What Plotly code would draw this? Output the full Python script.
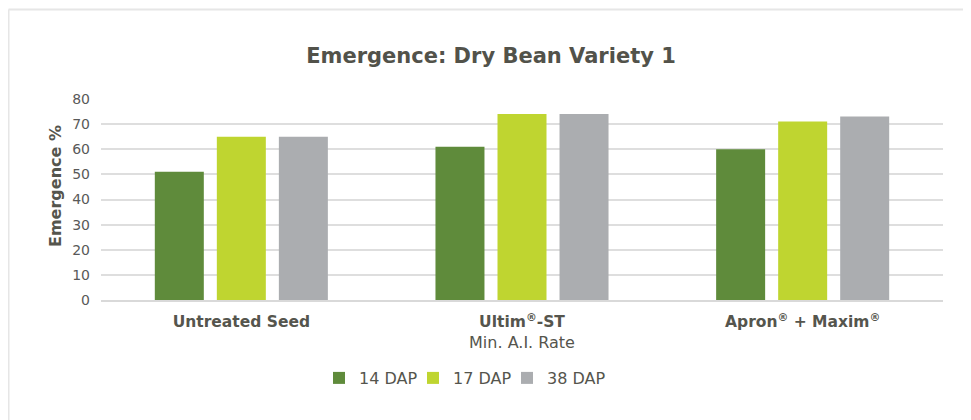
import plotly.graph_objects as go

categories = ["Untreated Seed", "Ultim®-ST Min. A.I. Rate", "Apron® + Maxim®"]
tick_labels = [
    "<b>Untreated Seed</b>",
    "<b>Ultim<sup>®</sup>-ST</b><br><span style='font-size:16px'>Min. A.I. Rate</span>",
    "<b>Apron<sup>®</sup> + Maxim<sup>®</sup></b>",
]
series_names = ["14 DAP", "17 DAP", "38 DAP"]
dap14 = [51, 61, 60]
dap17 = [65, 74, 71]
dap38 = [65, 74, 73]
colors = ["#5f8b3b", "#bfd530", "#abadb0"]

FONT = "DejaVu Sans"
TXT = "#55554d"

# page has an 8px body margin; figure is placed at (8, 8)
OX, OY = 8, 8
PW, PH = 971, 420
W, H = PW - OX, PH - OY
# plot area in page pixels
PL, PR, PT, PB = 101, 943, 99, 300
L, R, T, B = PL - OX, W - (PR - OX), PT - OY, H - (PB - OY)
pw, ph = PR - PL, PB - PT

def px_x(x):
    return (x - PL) / pw

def px_y(y):
    return (PB - y) / ph

legend_ids = ["legend", "legend2", "legend3"]
legend_left_px = [319, 413, 507]

fig = go.Figure()
for name, vals, col, lid in zip(series_names, [dap14, dap17, dap38], colors, legend_ids):
    fig.add_trace(go.Bar(x=categories, y=vals, name=name, legend=lid,
                         marker=dict(color=col, line=dict(width=0))))

legend_common = dict(orientation="h", xanchor="left", y=px_y(378), yanchor="middle",
                     font=dict(size=16, color=TXT), itemwidth=30, bgcolor="rgba(0,0,0,0)")

fig.update_layout(
    width=W, height=H,
    margin=dict(l=L, r=R, t=T, b=B, pad=0),
    paper_bgcolor="white", plot_bgcolor="white",
    barmode="group", bargap=0.337, bargroupgap=0.21,
    font=dict(family=FONT, color=TXT),
    title=dict(text="<b>Emergence: Dry Bean Variety 1</b>", x=px_x(491), xref="paper",
               xanchor="center", y=1 - (56 - OY) / H, yanchor="middle",
               font=dict(size=21, color="#52524a", family=FONT)),
    xaxis=dict(tickmode="array", tickvals=categories, ticktext=tick_labels,
               tickfont=dict(size=15.5, color=TXT), showgrid=False,
               showline=True, linecolor="#d9d9d9", linewidth=1.5, ticks="",
               ticklabelstandoff=7),
    yaxis=dict(range=[0, 80], dtick=10, showgrid=True, gridcolor="#dedede", gridwidth=1.5,
               zeroline=False, showline=False, ticks="", ticklabelstandoff=10,
               tickfont=dict(size=14, color="#595959")),
    legend=dict(x=px_x(legend_left_px[0]), **legend_common),
    legend2=dict(x=px_x(legend_left_px[1]), **legend_common),
    legend3=dict(x=px_x(legend_left_px[2]), **legend_common),
    showlegend=True,
)

fig.add_annotation(text="<b>Emergence %</b>", textangle=-90, xref="paper", yref="paper",
                   x=px_x(55), y=px_y(186), showarrow=False,
                   font=dict(size=16, color=TXT, family=FONT), xanchor="center", yanchor="middle")

fig.add_shape(type="line", xref="paper", yref="paper", x0=px_x(8.5), x1=px_x(990),
              y0=px_y(9.5), y1=px_y(9.5), line=dict(color="#e6e6e6", width=2))
fig.add_shape(type="line", xref="paper", yref="paper", x0=px_x(8.5), x1=px_x(8.5),
              y0=px_y(9.5), y1=px_y(440), line=dict(color="#e6e6e6", width=2))

fig.write_html("out.html")
